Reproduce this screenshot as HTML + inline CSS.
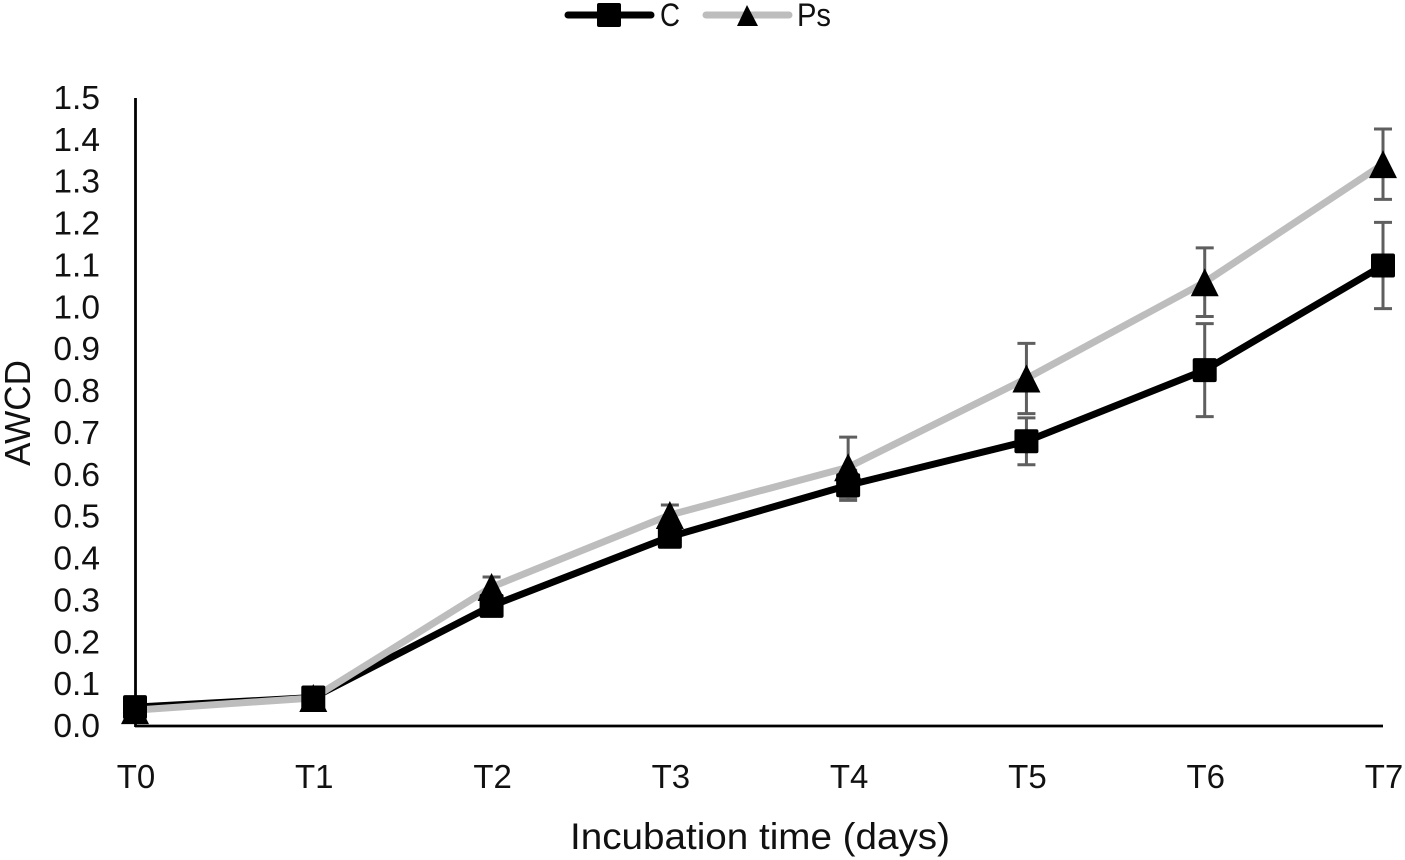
<!DOCTYPE html>
<html lang="en">
<head>
<meta charset="utf-8">
<title>AWCD over incubation time</title>
<style>
html,body{margin:0;padding:0;background:#fff;}
svg{display:block;}
text{font-family:"Liberation Sans",sans-serif;fill:#111;}
</style>
</head>
<body>
<svg id="chart" width="1405" height="860" viewBox="0 0 1405 860" xmlns="http://www.w3.org/2000/svg">
  <g id="legend">
    <g>
      <line x1="568" y1="15" x2="651" y2="15" stroke="#000" stroke-width="7" stroke-linecap="round"/>
      <rect x="597" y="3" width="24" height="24" rx="2" fill="#000"/>
      <text x="660" y="26" font-size="32" textLength="20" lengthAdjust="spacingAndGlyphs">C</text>
    </g>
    <g>
      <line x1="706" y1="15" x2="789" y2="15" stroke="#bdbdbd" stroke-width="7" stroke-linecap="round"/>
      <polygon points="747,5 737,26 758,26" fill="#000"/>
      <text x="797" y="26" font-size="32" textLength="34" lengthAdjust="spacingAndGlyphs">Ps</text>
    </g>
  </g>
  <g id="y-ticks"></g>
  <g id="x-ticks"></g>
  <line x1="135.5" y1="98" x2="135.5" y2="727" stroke="#000" stroke-width="2.8"/>
  <line x1="135" y1="726" x2="1383" y2="726" stroke="#000" stroke-width="2.8"/>
  <g id="errors"></g>
  <g id="lines"></g>
  <g id="markers"></g>
  <text transform="translate(30,413) rotate(-90)" text-anchor="middle" font-size="36" textLength="106" lengthAdjust="spacingAndGlyphs">AWCD</text>
  <text x="760" y="849" text-anchor="middle" font-size="37" textLength="380" lengthAdjust="spacingAndGlyphs">Incubation time (days)</text>
</svg>
<script>
const categories = ['T0', 'T1', 'T2', 'T3', 'T4', 'T5', 'T6', 'T7'];
const yTickValues = [0, 0.1, 0.2, 0.3, 0.4, 0.5, 0.6, 0.7, 0.8, 0.9, 1.0, 1.1, 1.2, 1.3, 1.4, 1.5];
const seriesC = [0.045, 0.068, 0.287, 0.452, 0.575, 0.680, 0.850, 1.100];
const seriesPs = [0.038, 0.067, 0.332, 0.504, 0.618, 0.830, 1.060, 1.342];
const errorC = [0.010, 0.010, 0.012, 0.012, 0.036, 0.056, 0.111, 0.103];
const errorPs = [0.010, 0.012, 0.024, 0.024, 0.072, 0.084, 0.082, 0.084];

const NS = 'http://www.w3.org/2000/svg';
function xPos(i) { return 135 + (1383 - 135) * i / (categories.length - 1); }
function yPos(v) { return 726 - (726 - 98) * v / 1.5; }
function make(tag, attrs, parent) {
  const el = document.createElementNS(NS, tag);
  for (const k in attrs) el.setAttribute(k, attrs[k]);
  parent.appendChild(el);
  return el;
}

const yTickGroup = document.getElementById('y-ticks');
yTickValues.forEach(function (v) {
  const t = make('text', { x: 100, y: yPos(v) + 11, 'text-anchor': 'end', 'font-size': 33.5 }, yTickGroup);
  
  
  t.textContent = v.toFixed(1);
});

const xTickGroup = document.getElementById('x-ticks');
categories.forEach(function (c, i) {
  const t = make('text', { x: xPos(i) + 1, y: 788, 'text-anchor': 'middle', 'font-size': 33 }, xTickGroup);
  
  
  t.textContent = c;
});

const errorGroup = document.getElementById('errors');
function drawErrors(values, errors, name) {
  values.forEach(function (v, i) {
    const x = xPos(i);
    const top = yPos(v + errors[i]);
    const bottom = yPos(v - errors[i]);
    const g = make('g', { stroke: '#5f5f5f', 'stroke-width': 3 }, errorGroup);
    
    
    make('line', { x1: x, y1: top, x2: x, y2: bottom }, g);
    make('line', { x1: x - 9, y1: top, x2: x + 9, y2: top }, g);
    make('line', { x1: x - 9, y1: bottom, x2: x + 9, y2: bottom }, g);
  });
}
drawErrors(seriesC, errorC, 'error-bar-c');
drawErrors(seriesPs, errorPs, 'error-bar-ps');

const lineGroup = document.getElementById('lines');
function pointsOf(values) {
  return values.map(function (v, i) { return xPos(i) + ',' + yPos(v); }).join(' ');
}
const lineC = make('polyline', { points: pointsOf(seriesC), fill: 'none', stroke: '#000', 'stroke-width': 7, 'stroke-linejoin': 'round' }, lineGroup);


const linePs = make('polyline', { points: pointsOf(seriesPs), fill: 'none', stroke: '#bdbdbd', 'stroke-width': 7, 'stroke-linejoin': 'round' }, lineGroup);



const markerGroup = document.getElementById('markers');
seriesC.forEach(function (v, i) {
  const r = make('rect', { x: xPos(i) - 12, y: yPos(v) - 12, width: 24, height: 24, rx: 2, fill: '#000' }, markerGroup);
  
  
});
seriesPs.forEach(function (v, i) {
  const x = xPos(i);
  const y = yPos(v);
  const p = make('polygon', { points: x + ',' + (y - 14) + ' ' + (x - 14) + ',' + (y + 14) + ' ' + (x + 14) + ',' + (y + 14), fill: '#000' }, markerGroup);
  
  
});
</script>
</body>
</html>
